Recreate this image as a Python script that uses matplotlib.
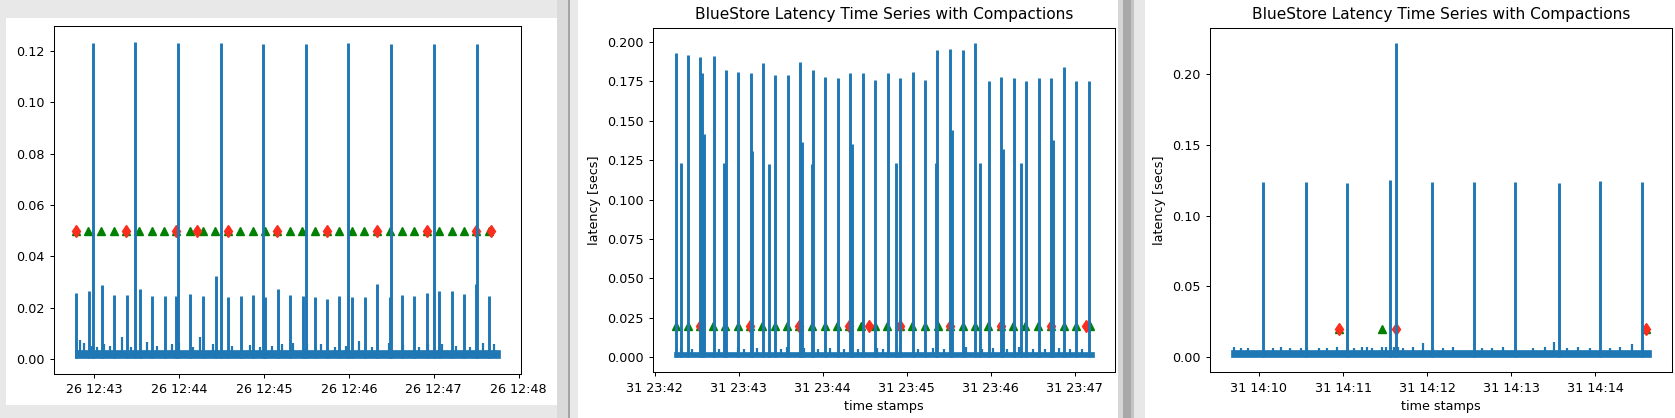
import matplotlib
matplotlib.use("Agg")
import matplotlib.pyplot as plt
import matplotlib.dates as mdates
import numpy as np
import pandas as pd
from matplotlib.patches import Rectangle

# the screenshot shows three matplotlib windows, shrunk a little
W, H = 1675, 418
S = 0.92
plt.rcParams['font.size'] = 10 * S
plt.rcParams['axes.linewidth'] = 0.8 * S
plt.rcParams['xtick.major.size'] = 3.5 * S
plt.rcParams['ytick.major.size'] = 3.5 * S
plt.rcParams['xtick.major.width'] = 0.8 * S
plt.rcParams['ytick.major.width'] = 0.8 * S

TITLE = 'BlueStore Latency Time Series with Compactions'

# ---- panel 1 (seconds after 26 12:43:00) ----
p1_t0 = '2019-03-26 12:43:00'
p1_band = [-13.6, 286.7]
p1_band_lo, p1_band_hi = 0.0004, 0.0034
p1_spike_s = [-0.8, 28.7, 59.1, 89.5, 119.4, 149.8, 179.4, 209.8, 240.2, 270.6,
              -12.8, -3.5, 5.5, 14.1, 23.1, 32.2, 41.0, 49.8, 58.1, 67.6, 76.9,
              85.9, 94.7, 103.5, 112.1, 120.9, 129.7, 138.5, 147.3, 156.1, 164.6,
              173.4, 182.4, 191.2, 200.0, 208.8, 217.6, 226.4, 235.0, 244.0,
              252.8, 261.6, 270.1, 279.2]
p1_spike_h = [0.1230, 0.1235, 0.1231, 0.1230, 0.1227, 0.1226, 0.1230, 0.1228, 0.1228, 0.1228,
              0.0256, 0.0265, 0.0287, 0.0251, 0.0248, 0.0274, 0.0247, 0.0245, 0.0246, 0.0254,
              0.0246, 0.0324, 0.0242, 0.0245, 0.0249, 0.0242, 0.0272, 0.0250, 0.0245, 0.0243,
              0.0236, 0.0247, 0.0242, 0.0243, 0.0294, 0.0243, 0.0251, 0.0246, 0.0256, 0.0264,
              0.0265, 0.0254, 0.0294, 0.0246]
p1_bump_s = [-10.3, -7.3, -1.5, 2.0, 7.3, 11.0, 19.9, 26.0, 37.4, 44.5, 55.0, 60.1, 70.0,
             75.1, 83.9, 97.5, 110.3, 117.0, 125.5, 132.9, 140.5, 150.5, 160.6, 170.0,
             178.0, 187.0, 196.5, 208.3, 218.4, 229.5, 236.0, 246.0, 256.0, 265.5, 274.9,
             282.5]
p1_bump_h = [0.0075, 0.0065, 0.0050, 0.0048, 0.0060, 0.0050, 0.0085, 0.0048, 0.0068, 0.0050,
             0.0060, 0.0062, 0.0048, 0.0085, 0.0058, 0.0050, 0.0055, 0.0048, 0.0050, 0.0060,
             0.0062, 0.0060, 0.0060, 0.0048, 0.0050, 0.0070, 0.0048, 0.0062, 0.0055, 0.0048,
             0.0060, 0.0058, 0.0050, 0.0048, 0.0062, 0.0060]
p1_green_s = [-12.8, -4.0, 5.0, 14.1, 22.9, 31.9, 40.7, 49.5, 58.0, 67.6, 76.9, 85.7,
              94.5, 103.3, 112.1, 120.9, 129.4, 138.2, 147.0, 155.8, 164.6, 173.1,
              182.4, 190.7, 199.8, 208.8, 217.6, 226.2, 235.0, 244.0, 252.6, 261.1,
              270.1, 279.2]
p1_red_s = [-12.8, 22.9, 58.0, 72.9, 94.5, 129.4, 164.6, 199.8, 235.0, 270.1, 280.4]
p1_mark_y = 0.05

# ---- panel 2 (seconds after 31 23:42:00) ----
p2_t0 = '2019-03-31 23:42:00'
p2_band = [13.9, 313.6]
p2_band_lo, p2_band_hi = 0.0004, 0.0036
p2_spike_s = [15.0, 18.6, 24.1, 32.8, 34.1, 35.2, 42.5, 49.3, 51.2, 59.6, 68.7, 69.8,
              77.4, 82.1, 86.1, 95.0, 103.9, 105.5, 112.8, 113.4, 122.0, 130.7, 139.6,
              141.2, 148.8, 157.7, 166.6, 172.1, 175.5, 184.5, 193.1, 201.0, 201.8,
              211.2, 212.5, 220.2, 229.1, 232.2, 238.5, 247.7, 249.0, 256.4, 261.6,
              265.5, 274.2, 283.1, 284.7, 292.1, 301.2, 310.2]
p2_spike_h = [0.1928, 0.1232, 0.1920, 0.1903, 0.1800, 0.1418, 0.1910, 0.1230, 0.1825, 0.1808,
              0.1802, 0.1310, 0.1867, 0.1228, 0.1790, 0.1793, 0.1870, 0.1365, 0.1228, 0.1820,
              0.1780, 0.1774, 0.1800, 0.1350, 0.1800, 0.1760, 0.1800, 0.1232, 0.1770, 0.1810,
              0.1760, 0.1230, 0.1950, 0.1956, 0.1440, 0.1947, 0.1991, 0.1232, 0.1750, 0.1776,
              0.1320, 0.1770, 0.1234, 0.1750, 0.1774, 0.1770, 0.1375, 0.1844, 0.1750, 0.1750]
p2_bump_s = [19.1, 27.0, 33.3, 46.0, 59.3, 64.0, 73.5, 90.0, 94.8, 106.6, 117.0, 125.5,
             135.0, 145.0, 158.6, 163.0, 175.2, 188.0, 198.8, 207.0, 222.5, 234.0,
             241.4, 252.0, 260.3, 270.0, 279.0, 288.7, 297.0, 305.0]
p2_bump_h = [0.0060, 0.0050, 0.0065, 0.0050, 0.0060, 0.0052, 0.0058, 0.0050, 0.0062, 0.0060,
             0.0050, 0.0058, 0.0050, 0.0052, 0.0060, 0.0050, 0.0062, 0.0050, 0.0058, 0.0050,
             0.0065, 0.0050, 0.0060, 0.0050, 0.0062, 0.0050, 0.0052, 0.0060, 0.0050, 0.0052]
p2_green_s = [15.0, 23.6, 32.5, 42.0, 50.6, 59.6, 68.2, 76.9, 85.8, 94.7, 103.4, 112.6,
              121.5, 130.4, 138.8, 147.7, 157.7, 166.1, 175.5, 183.9, 193.1, 202.3,
              211.2, 220.2, 229.1, 238.0, 247.2, 255.8, 264.8, 273.9, 283.1, 292.1,
              301.0, 310.9]
p2_red_s = [32.5, 68.2, 103.4, 138.8, 153.0, 175.5, 211.2, 247.2, 283.1, 307.8]
p2_mark_y = 0.02

# ---- panel 3 (seconds after 31 14:10:00) ----
p3_t0 = '2019-03-31 14:10:00'
p3_band = [-20.3, 279.8]
p3_band_lo, p3_band_hi = 0.0004, 0.0052
p3_spike_s = [2.8, 33.5, 63.0, 93.5, 97.5, 123.3, 153.3, 183.0, 213.8, 243.0, 273.5]
p3_spike_h = [0.1237, 0.1237, 0.1230, 0.1249, 0.2216, 0.1237, 0.1237, 0.1237, 0.1230,
              0.1242, 0.1237]
p3_bump_s = [-17.8, -12.8, -7.8, 9.8, 16.0, 22.3, 29.8, 34.3, 42.5, 48.5, 55.7, 67.5,
             73.5, 77.0, 80.6, 88.0, 91.0, 94.0, 96.0, 99.0, 103.1, 110.2, 117.4, 124.5,
             131.6, 138.7, 159.0, 166.1, 174.4, 195.7, 204.1, 210.7, 219.6, 227.8,
             236.2, 250.4, 257.6, 265.9]
p3_bump_h = [0.0075, 0.0068, 0.0065, 0.0062, 0.0072, 0.0066, 0.0064, 0.0070, 0.0066,
             0.0068, 0.0072, 0.0066, 0.0070, 0.0072, 0.0068, 0.0075, 0.0072, 0.0075,
             0.0072, 0.0070, 0.0068, 0.0070, 0.0099, 0.0066, 0.0068, 0.0070, 0.0066,
             0.0068, 0.0070, 0.0068, 0.0070, 0.0110, 0.0068, 0.0070, 0.0066, 0.0068,
             0.0075, 0.0094]
p3_green_s = [57.0, 87.5, 276.5]
p3_red_s = [57.0, 97.5, 276.5]
p3_mark_y = 0.02

BLUE = '#1f77b4'
RED = '#fa2d1e'
GREEN = 'g'

fig = plt.figure(figsize=(W / 100, H / 100), dpi=100, facecolor='#e8e8e8')


def px_box(x0, y0, x1, y1, color):
    fig.add_artist(Rectangle((x0 / W, 1 - y1 / H), (x1 - x0) / W, (y1 - y0) / H,
                             transform=fig.transFigure, facecolor=color,
                             edgecolor='none', zorder=-10))


def px_axes(x0, y0, x1, y1):
    return fig.add_axes([x0 / W, 1 - y1 / H, (x1 - x0) / W, (y1 - y0) / H])


# window backgrounds and the gaps between them
px_box(6, 18, 557, 405, 'white')
px_box(557, 0, 568, H, '#dadada')
px_box(568, 0, 570, H, '#a4a4a4')
px_box(570, 0, 578, H, '#e9e9e9')
px_box(578, 0, 1118, H, 'white')
px_box(1118, 0, 1123, H, '#d6d6d6')
px_box(1123, 0, 1131, H, '#a9a9a9')
px_box(1131, 0, 1134, H, '#c4c4c4')
px_box(1134, 0, 1145, H, '#e8e8e8')
px_box(1145, 0, W, H, 'white')


def draw(ax, t0, band, lo, hi, spike_s, spike_h, bump_s, bump_h, green_s, red_s, mark_y):
    base = pd.Timestamp(t0)

    def T(sec):
        return (base + pd.to_timedelta(np.asarray(sec), unit='s')).to_numpy()

    ax.plot(T(green_s), [mark_y] * len(green_s), '^', color=GREEN, ms=6 * S, zorder=2)
    ax.plot(T(red_s), [mark_y] * len(red_s), 'd', color=RED, ms=6.5 * S, zorder=2.1)
    ax.fill_between(T(band), lo, hi, color=BLUE, lw=0.5, zorder=3)
    ax.vlines(T(spike_s), lo, spike_h, color=BLUE, lw=2.1, zorder=3)
    ax.vlines(T(bump_s), lo, bump_h, color=BLUE, lw=1.6, zorder=3)
    ax.xaxis.set_major_locator(mdates.MinuteLocator())
    ax.xaxis.set_major_formatter(mdates.DateFormatter('%d %H:%M'))


ax1 = px_axes(53.6, 26, 521, 374)
draw(ax1, p1_t0, p1_band, p1_band_lo, p1_band_hi, p1_spike_s, p1_spike_h,
     p1_bump_s, p1_bump_h, p1_green_s, p1_red_s, p1_mark_y)

ax2 = px_axes(653, 27.7, 1114.7, 372.3)
draw(ax2, p2_t0, p2_band, p2_band_lo, p2_band_hi, p2_spike_s, p2_spike_h,
     p2_bump_s, p2_bump_h, p2_green_s, p2_red_s, p2_mark_y)
ax2.set_title(TITLE, fontsize=12 * S)
ax2.set_ylabel('latency [secs]')
ax2.set_xlabel('time stamps')

ax3 = px_axes(1209.5, 27.7, 1672.1, 372.3)
draw(ax3, p3_t0, p3_band, p3_band_lo, p3_band_hi, p3_spike_s, p3_spike_h,
     p3_bump_s, p3_bump_h, p3_green_s, p3_red_s, p3_mark_y)
ax3.set_title(TITLE, fontsize=12 * S)
ax3.set_ylabel('latency [secs]')
ax3.set_xlabel('time stamps')

fig.savefig('out.png', dpi=100, facecolor=fig.get_facecolor())
